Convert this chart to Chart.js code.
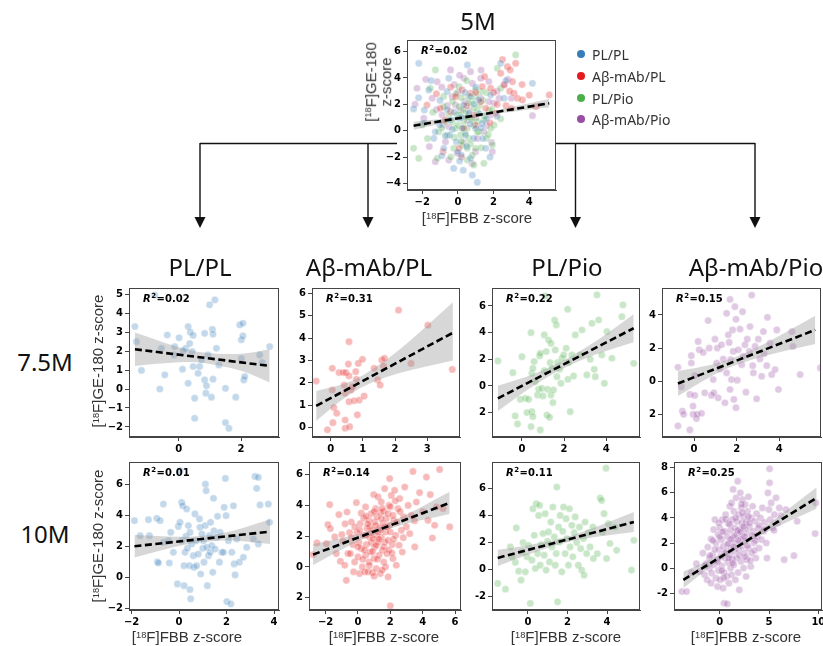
<!DOCTYPE html>
<html>
<head>
<meta charset="utf-8">
<script src="https://cdn.jsdelivr.net/npm/chart.js@4.4.1/dist/chart.umd.min.js"></script>
<style>
  body { margin: 0; background: #fff; }
  #fig { position: relative; width: 823px; height: 646px; overflow: hidden; font-family: "Liberation Sans", Arial, sans-serif; }
  #fig canvas { position: absolute; }
  .t { position: absolute; white-space: nowrap; transform: translate(-50%, -50%); }
  .big { font-family: "Noto Sans", sans-serif; font-size: 24px; color: #111; }
  .ax { font-size: 15px; color: #333; text-align: center; line-height: 15px; }
  .rot { transform: translate(-50%, -50%) rotate(-90deg); }
  .sup { font-size: 0.62em; vertical-align: 0.5em; }
  .leg { position: absolute; font-family: "Noto Sans", sans-serif; font-size: 14px; color: #333; white-space: nowrap; }
  .leg i { position: absolute; left: -15px; top: 5px; width: 8px; height: 8px; border-radius: 50%; }
</style>
</head>
<body>
<div id="fig">
  <svg width="823" height="646" style="position:absolute;left:0;top:0">
    <g stroke="#111" stroke-width="1.4" fill="none">
      <path d="M200 143.5 H397 M556 143.5 H755" />
      <path d="M200 143 V219 M368 143 V219 M575.5 143 V219 M755 143 V219" />
    </g>
    <g fill="#111">
      <path d="M194.5 217 H205.5 L200 228 Z" />
      <path d="M362.5 217 H373.5 L368 228 Z" />
      <path d="M570 217 H581 L575.5 228 Z" />
      <path d="M749.5 217 H760.5 L755 228 Z" />
    </g>
  </svg>
</div>
<script>
// groups and time points
const groups = ['PL/PL', 'Aβ-mAb/PL', 'PL/Pio', 'Aβ-mAb/Pio'];
const timepoints = ['5M', '7.5M', '10M'];

// R² per panel
const r2At5 = '0.02';
const r2At75 = ['0.02', '0.31', '0.22', '0.15'];
const r2At10 = ['0.01', '0.14', '0.11', '0.25'];

// 5M, all groups in one panel
const m5PLPL = [[-2.48,1.65],[-2.19,5.11],[-1.88,1.57],[-1.63,3.09],[-1.26,-0.08],[-1.01,0.43],[-0.79,-1.34],[-0.51,3.97],[-0.45,-0.33],[-0.23,-2.86],[-0.08,-0.84],[0.06,0.94],[0.19,-1.85],[0.34,1.95],[0.43,-0.33],[0.62,1.32],[0.71,-2.1],[0.81,-3.37],[0.9,-0.58],[1.09,-3.92],[1.18,2.33],[1.37,0.56],[1.56,-1.34],[1.84,2.71],[2.4,5.11],[2.59,2.46],[4.18,3.59],[0.53,4.99],[-0.6,2.96],[-1.35,-0.58],[-0.41,0.81],[0.99,0.18],[0.24,0.18],[0.7,0.5],[1.2,1.3],[-0.2,1.4],[0.4,2.9],[1.6,0.9],[-0.7,-0.4],[2.2,1.1],[0.1,-2.3],
    [-1.0,2.3],[-0.3,0.1],[0.2,1.0],[0.9,2.0],[1.4,-0.6],[-1.9,0.6],[-0.9,-1.9],[0.5,-1.2],[1.0,3.3],[-1.5,3.8],[1.8,-2.0],[0.3,-3.0],[2.7,3.8],[-0.6,1.6],[0.7,2.6],[1.3,0.2],[-2.2,2.5],[0.0,-1.6]];
const m5AbPL = [[-1.73,1.95],[-0.98,1.7],[-0.13,2.58],[0.24,3.09],[0.71,2.84],[0.9,1.19],[1.37,3.34],[1.56,1.7],[1.84,3.22],[2.12,1.32],[2.4,4.35],[2.59,3.47],[2.78,4.86],[2.93,4.61],[3.06,3.72],[3.15,2.84],[3.24,5.11],[3.34,2.46],[3.62,2.33],[4.37,1.82],[5.12,2.71],[-0.83,-1.59],[0.06,-1.34],[0.34,0.18],[-0.41,1.44],[1.28,2.2],[1.0,0.4],[2.0,2.9],[2.7,1.9],[-0.4,3.3],
    [1.5,4.1],[2.2,2.0],[2.9,3.0],[3.6,3.5],[1.0,2.9],[0.5,1.9],[-1.2,2.8],[1.8,0.6],[3.0,1.7],[2.5,5.4],[4.0,2.7],[-0.7,0.8],[0.2,-2.0]];
const m5PLPio = [[-2.48,-1.34],[-2.19,-2.1],[-2.01,0.43],[-1.54,3.22],[-1.26,4.61],[-1.16,-2.1],[-0.79,1.82],[-0.6,-0.33],[-0.32,0.68],[-0.13,0.18],[-0.04,1.19],[0.06,1.82],[0.15,-0.33],[0.24,-1.09],[0.34,0.68],[0.43,1.32],[0.53,0.18],[0.62,-0.58],[0.71,0.94],[0.81,2.2],[0.9,0.43],[0.99,-1.34],[1.09,1.44],[1.18,-0.08],[1.28,2.96],[1.46,0.81],[1.61,-0.58],[1.74,1.57],[1.93,-1.09],[2.03,0.43],[2.21,4.73],[2.4,3.22],[0.99,3.09],[0.06,3.34],[-0.69,0.68],[-0.23,-1.34],[0.53,-2.23],[1.46,-2.48],[3.24,5.75],[-1.07,-0.08],[1.84,0.18],[0.53,-1.34],[0.81,-1.85],[0.3,1.6],[0.6,2.6],[1.1,0.7],[-0.3,2.2],[0.9,1.7],[1.4,2.3],[0.2,-0.8],[1.7,-0.3],[-0.9,0.2],[0.5,3.8],
    [-0.5,1.2],[0.0,0.4],[0.4,-0.2],[0.8,0.9],[1.2,1.9],[1.5,1.1],[0.2,2.5],[-0.2,-0.5],[0.7,-1.0],[1.0,2.6],[0.5,1.0],[-0.8,2.6],[1.3,-1.3],[1.9,1.6],[0.1,1.2],[-1.4,1.4],[-0.4,-2.0],[0.9,-2.6],[1.6,2.9],[-1.7,-0.6],[2.4,0.9],[0.3,0.2],[1.1,-0.1],[-0.1,2.8],[0.6,2.1]];
const m5AbPio = [[-2.29,3.22],[-1.91,0.94],[-1.44,2.46],[-1.16,3.72],[-0.88,1.19],[-0.69,-0.84],[-0.41,4.61],[-0.32,2.58],[-0.04,-1.72],[0.15,1.57],[0.34,3.97],[0.53,0.81],[0.71,4.48],[0.99,-1.59],[1.28,3.97],[1.46,-0.08],[1.74,3.72],[1.84,1.19],[2.03,2.08],[2.31,2.46],[3.0,2.46],[4.18,1.14],[-1.26,-2.35],[-0.51,-2.23],[1.28,2.46],[1.74,2.2],[1.93,-1.59],[0.81,3.59],[-0.83,0.43],[-0.13,1.95],[0.6,1.5],[1.1,-0.6],[-0.6,1.9],[2.6,3.5],[0.0,2.9],
    [-1.8,3.9],[-0.9,3.3],[-0.2,3.5],[0.4,2.2],[1.0,1.0],[-1.2,1.6],[1.6,0.4],[2.2,3.0],[-0.5,0.3],[0.3,-0.9],[0.8,-2.5],[-1.6,-1.2],[1.3,4.6],[2.8,3.9],[0.1,4.2],[-2.4,2.0],[1.9,-0.9]];
const fit5X = [-2.48, 5.12];
const fit5Y = [0.38, 2.08];
const band5X = [-2.48, 0, 2.5, 5.12];
const band5Lo = [0.08, 0.82, 1.35, 1.76];
const band5Hi = [0.68, 1.06, 1.65, 2.40];

// 7.5M
const m75PLPL = [[-1.41,3.3],[-1.36,2.5],[-1.2,0.98],[-0.77,4.96],[-0.56,2.15],[-0.45,0.75],[-0.61,0.0],[-0.37,2.85],[-0.15,1.8],[-0.13,2.24],[0.01,2.7],[0.12,1.05],[0.22,2.15],[0.3,3.3],[0.3,0.3],[0.35,2.4],[0.37,3.0],[0.46,2.83],[0.43,1.98],[0.46,1.19],[0.51,-0.48],[0.51,-1.54],[0.62,0.83],[0.67,1.19],[0.73,1.54],[0.83,2.94],[0.83,0.48],[0.87,-0.22],[0.89,0.17],[0.94,1.8],[0.99,4.44],[1.05,-0.43],[1.08,3.15],[1.1,2.9],[1.1,0.52],[1.16,4.7],[1.21,2.15],[1.29,1.27],[1.5,0.04],[1.5,-1.77],[1.61,-2.07],[1.83,-0.43],[1.96,3.38],[2.01,1.6],[2.01,2.6],[2.06,3.47],[2.06,2.8],[2.09,0.48],[2.12,0.66],[2.6,1.8],[2.68,1.4],[2.92,2.24],[0.14,2.03]];
const m75AbPL = [[-0.45,2.08],[-0.1,-0.1],[0.05,2.65],[0.05,1.68],[0.07,0.22],[0.1,0.89],[0.19,0.64],[0.26,2.46],[0.39,2.46],[0.47,2.46],[0.45,1.53],[0.45,0.34],[0.45,-0.03],[0.42,1.9],[0.55,2.84],[0.57,2.31],[0.57,3.84],[0.57,1.16],[0.59,0.04],[0.63,1.68],[0.68,1.83],[0.73,1.2],[0.78,2.5],[0.8,2.16],[0.83,0.57],[0.86,2.87],[0.89,1.23],[0.99,3.05],[1.04,1.41],[1.35,2.65],[1.46,2.13],[1.54,1.9],[1.59,3.02],[1.64,2.75],[1.67,3.1],[2.11,5.25],[2.5,2.87],[3.02,4.58],[3.78,2.6]];
const m75PLPio = [[-1.14,1.88],[-0.43,1.0],[-0.32,-2.25],[-0.21,-2.85],[0,2.2],[-0.08,-1.0],[0.16,-0.93],[0.24,-2.0],[0.32,-1.0],[0.43,4.0],[0.47,0.95],[0.52,1.33],[0.47,-1.93],[0.52,-2.3],[0.43,-3.05],[0.58,1.83],[0.63,0.33],[0.74,-0.68],[0.79,-0.25],[0.84,2.25],[0.87,-3.3],[0.87,2.45],[0.95,-0.18],[1.0,-0.75],[1.06,1.15],[1.06,3.83],[1.11,6.75],[1.15,2.58],[1.19,-2.18],[1.22,-0.25],[1.26,3.45],[1.31,-2.35],[1.34,1.75],[1.38,3.2],[1.38,-0.68],[1.42,1.33],[1.47,-1.25],[1.5,-0.3],[1.55,4.95],[1.58,2.7],[1.63,4.58],[1.66,0.7],[1.69,1.75],[1.79,1.25],[1.85,0.2],[1.9,2.08],[1.98,2.33],[2.1,2.83],[2.17,5.75],[2.18,0.5],[2.21,1.75],[2.29,-1.93],[2.37,2.33],[2.45,0.75],[2.53,3.83],[2.77,2.33],[2.85,4.2],[3.08,0.83],[3.24,2.0],[3.32,4.7],[3.43,1.25],[3.48,0.7],[3.56,6.83],[3.64,4.95],[3.79,2.33],[3.91,0.2],[4.03,4.08],[4.27,2.08],[4.79,6.08],[4.74,5.2],[5.3,1.7]];
const m75AbPio = [[-0.76,0.84],[-0.76,-2.7],[-0.6,-0.34],[-0.55,-1.8],[-0.49,-2.0],[-0.2,-2.94],[-0.2,-0.8],[-0.13,1.54],[-0.13,1.1],[-0.05,-2.0],[-0.05,-1.5],[0.03,-0.86],[0.03,0.34],[0.11,-2.26],[0.14,-2.0],[0.19,2.4],[0.24,1.9],[0.35,-1.94],[0.43,1.74],[0.5,-0.7],[0.66,3.66],[0.71,2.0],[0.82,-0.86],[0.9,0.1],[0.93,-0.7],[0.98,2.54],[1.06,1.1],[1.09,2.0],[1.13,-1.0],[1.21,0.74],[1.29,2.2],[1.37,1.34],[1.45,-1.3],[1.53,0.5],[1.53,4.1],[1.61,2.8],[1.65,2.34],[1.69,4.94],[1.69,-0.5],[1.72,1.3],[1.76,0.1],[1.81,3.1],[1.84,1.8],[1.87,-1.1],[1.92,4.5],[1.97,3.74],[1.97,-1.6],[2.03,0.06],[2.08,1.9],[2.16,3.14],[2.24,1.0],[2.28,4.2],[2.31,1.5],[2.39,2.2],[2.44,-0.66],[2.5,2.54],[2.6,1.8],[2.63,3.3],[2.71,5.2],[2.76,0.94],[2.79,0.5],[2.87,2.1],[2.94,-1.06],[3.02,2.54],[3.1,1.34],[3.18,0.3],[3.26,3.0],[3.29,1.66],[3.42,0.94],[3.45,3.86],[3.57,2.3],[3.65,0.4],[3.81,0.7],[3.89,3.1],[3.97,-0.5],[4.6,3.0],[4.65,2.1],[4.99,0.4],[5.94,0.8]];
const fit75X = [[-1.41, 2.92], [-0.45, 3.8], [-1.14, 5.3], [-0.76, 5.7]];
const fit75Y = [[2.1, 1.22], [0.97, 4.24], [-0.93, 4.33], [-0.14, 3.1]];
const band75X = [[-1.41, 0, 0.8, 2, 2.92], [-0.45, 0.5, 1.2, 2.2, 3.8], [-1.14, 0.5, 2, 3.5, 5.3], [-0.76, 0.8, 2, 3.5, 5.7]];
const band75Lo = [[1.22, 1.41, 1.37, 0.96, 0.34], [0.30, 1.40, 1.96, 2.46, 3.0], [-1.88, -0.04, 1.34, 2.36, 3.28], [-0.89, 0.29, 0.99, 1.59, 2.25]];
const band75Hi = [[2.98, 2.21, 1.93, 1.86, 2.10], [1.64, 2.00, 2.52, 3.56, 5.6], [0.02, 0.86, 1.94, 3.36, 5.38], [0.61, 0.99, 1.49, 2.39, 3.95]];

// 10M
const m10PLPL = [[-1.88,3.65],[-1.64,2.68],[-1.29,3.71],[-1.25,2.68],[-0.94,3.8],[-0.91,1.0],[-0.87,0.92],[-0.8,3.65],[-0.66,2.25],[-0.66,4.72],[-0.45,2.36],[-0.41,0.92],[-0.35,2.9],[-0.24,1.61],[-0.07,-0.43],[-0.03,3.28],[0.04,3.54],[0.11,4.83],[0.11,2.36],[0.15,4.61],[0.21,0.75],[0.21,-0.54],[0.25,1.61],[0.29,2.64],[0.32,4.4],[0.35,1.87],[0.39,3.33],[0.44,0.75],[0.46,-0.79],[0.46,2.9],[0.49,-1.39],[0.53,2.15],[0.6,1.39],[0.63,0.64],[0.67,4.08],[0.72,2.36],[0.74,0.75],[0.81,1.5],[0.86,3.76],[0.88,3.22],[0.91,0.21],[0.96,2.79],[1.0,1.87],[1.03,2.36],[1.05,0.97],[1.1,3.33],[1.11,6.0],[1.14,5.58],[1.17,1.93],[1.19,-0.54],[1.24,1.39],[1.28,2.68],[1.31,1.61],[1.33,3.54],[1.38,2.04],[1.42,0.32],[1.45,5.09],[1.47,3.0],[1.52,1.82],[1.59,2.58],[1.62,3.93],[1.7,0.97],[1.73,2.9],[1.8,1.61],[1.87,1.61],[1.9,4.51],[1.95,6.37],[1.98,3.97],[2.01,-1.57],[2.08,2.36],[2.18,-1.72],[2.22,1.61],[2.29,4.61],[2.32,0.86],[2.36,0.15],[2.43,2.47],[2.54,0.97],[2.71,1.29],[2.85,1.93],[3.13,2.47],[3.2,6.5],[3.27,5.73],[3.34,6.44],[3.41,4.66],[3.34,2.15],[3.76,4.72],[3.81,3.54],[0.04,6.87]];
const m10AbPL = [[-2.78,0.8],[-2.54,1.56],[-1.86,2.75],[-1.75,4.05],[-1.71,2.49],[-1.96,1.52],[-1.44,1.95],[-1.34,0.87],[-1.18,3.4],[-1.09,0.37],[-0.93,1.67],[-0.82,0.11],[-0.72,-0.87],[-0.68,3.57],[-0.62,0.87],[-0.52,2.23],[-0.47,0.87],[-0.41,2.92],[-0.31,1.45],[-0.27,-0.32],[-0.21,0.32],[-0.1,4.18],[-0.06,2.23],[0,0.65],[0.06,1.58],[0.1,-0.43],[0.14,2.81],[0.21,1.19],[0.27,0],[0.31,2.06],[0.35,3.18],[0.41,-0.32],[0.47,3.9],[0.47,0.76],[0.52,1.45],[0.56,2.49],[0.62,-0.32],[0.68,3.03],[0.68,0.32],[0.72,1.95],[0.76,0.97],[0.82,1.58],[0.82,3.46],[0.89,-0.37],[0.93,2.38],[0.97,4.7],[0.99,0.54],[1.03,2.92],[1.03,1.3],[1.09,3.79],[1.13,2.06],[1.13,-0.11],[1.18,3.25],[1.24,1.62],[1.24,4.55],[1.3,0.76],[1.34,2.53],[1.38,3.53],[1.38,-0.43],[1.44,1.95],[1.44,4.22],[1.51,1.08],[1.55,2.81],[1.59,0.32],[1.59,3.61],[1.65,5.09],[1.65,1.62],[1.71,2.27],[1.75,3.14],[1.79,0.87],[1.86,1.73],[1.86,-0.65],[1.92,4.0],[1.96,5.74],[2.0,2.27],[2.0,-2.53],[2.06,4.65],[2.12,1.45],[2.16,0.54],[2.21,3.03],[2.27,4.98],[2.33,2.06],[2.37,0.11],[2.47,3.79],[2.54,1.41],[2.58,4.44],[2.68,2.38],[2.74,0.97],[2.82,3.25],[2.89,5.19],[2.99,2.6],[3.2,2.16],[3.3,3.35],[3.4,6.21],[3.51,1.3],[3.61,4.22],[3.81,4.83],[4.23,5.84],[4.33,3.03],[4.47,4.7],[4.6,1.88],[4.74,2.71],[4.85,3.9],[5.05,6.34],[5.26,3.79],[5.67,2.6],[0.72,2.6],[1.24,2.27],[1.44,3.14],[1.65,2.6],[1.86,3.46],[0.93,1.84],[1.13,1.41],[1.96,2.71],[0.52,2.06],[2.16,3.35],
    [0.2,3.5],[0.4,1.1],[0.6,2.8],[0.8,2.2],[1.0,3.6],[1.2,0.5],[1.4,2.4],[1.6,1.3],[1.8,2.6],[2.0,3.9],[2.2,1.8],[2.4,2.9],[0.1,2.4],[0.3,0.5],[0.9,1.0],[1.1,2.7],[1.5,3.8],[1.7,0.0],[1.9,1.1],[2.3,4.3],[-0.4,1.9],[-0.2,2.6],[0.5,3.3],[0.7,0.1],[1.3,1.8],[2.6,3.6],[2.8,1.9],[3.1,4.0],[-1.0,2.1],[-0.8,2.8],[0.0,1.3],[1.5,-0.2],[2.1,0.9],[3.5,3.0],[4.0,3.6],[1.0,-0.6]];
const m10PLPio = [[-1.53,-1.06],[-1.14,-1.49],[-0.89,1.66],[-0.81,0.92],[-0.64,0.5],[-0.59,3.07],[-0.47,-0.15],[-0.35,-0.82],[-0.3,1.29],[-0.25,1.98],[-0.13,-0.2],[-0.05,0.92],[0.03,1.78],[0.12,-2.55],[0.2,0.67],[0.25,4.5],[0.32,2.52],[0.37,0.05],[0.42,4.88],[0.49,1.16],[0.54,4.0],[0.59,4.75],[0.62,0.3],[0.67,1.83],[0.76,2.65],[0.82,1.04],[0.87,4.13],[0.92,-0.07],[0.99,2.08],[1.04,2.77],[1.09,0.54],[1.16,3.51],[1.21,1.66],[1.26,4.63],[1.33,2.4],[1.38,0.3],[1.43,1.16],[1.46,6.11],[1.5,-2.43],[1.55,3.14],[1.6,2.03],[1.63,4.0],[1.71,-0.2],[1.76,2.82],[1.8,4.63],[1.88,1.16],[1.93,3.76],[1.97,2.28],[2.05,0.3],[2.1,4.5],[2.13,1.66],[2.22,3.27],[2.27,0.92],[2.34,2.72],[2.39,3.89],[2.47,1.98],[2.55,0.3],[2.61,3.14],[2.67,1.53],[2.72,-0.07],[2.81,2.28],[2.84,-0.45],[2.89,3.51],[2.97,1.16],[3.06,2.72],[3.14,1.66],[3.28,3.14],[3.31,0.79],[3.51,1.16],[3.65,5.3],[3.73,5.12],[3.78,2.77],[3.85,4.13],[3.95,7.52],[3.98,0.79],[4.07,3.39],[4.15,1.91],[4.4,3.14],[4.49,1.41],[5.24,-0.07],[5.36,2.15]];
const m10AbPio = [[-3.86,-1.87],[-3.37,-1.87],[-2.87,-0.35],[-2.38,0.35],[-2.05,-0.27],[-1.72,1.2],[-1.55,-0.53],[-1.39,0.35],[-1.29,-0.93],[-1.22,1.68],[-1.06,0],[-1.06,0.8],[-0.89,2.32],[-0.89,-1.2],[-0.83,-0.4],[-0.73,1.07],[-0.63,3.07],[-0.56,0.27],[-0.5,3.87],[-0.4,2.0],[-0.4,-0.8],[-0.3,0.67],[-0.23,-1.47],[-0.17,2.67],[-0.13,-0.19],[-0.07,1.47],[0,3.2],[0.03,-0.93],[0.1,0.93],[0.17,2.27],[0.2,0.19],[0.26,3.87],[0.33,-1.6],[0.36,1.73],[0.43,-0.35],[0.43,-2.8],[0.5,2.93],[0.53,0.8],[0.59,4.27],[0.66,1.33],[0.69,-0.67],[0.76,2.53],[0.76,-2.85],[0.83,0.45],[0.86,3.55],[0.92,2.0],[0.92,-1.2],[0.99,1.07],[1.02,4.93],[1.09,0],[1.09,3.01],[1.16,1.6],[1.19,-0.53],[1.25,3.87],[1.25,0.72],[1.32,2.4],[1.35,6.27],[1.42,0.27],[1.42,4.53],[1.49,1.33],[1.52,3.2],[1.58,2.0],[1.58,-0.93],[1.65,5.6],[1.68,0.8],[1.75,3.73],[1.75,2.67],[1.82,6.93],[1.85,-0.35],[1.91,4.27],[1.91,1.47],[1.98,-1.73],[2.01,3.07],[2.08,6.0],[2.08,2.27],[2.15,0.53],[2.18,4.8],[2.24,3.6],[2.24,1.73],[2.31,5.47],[2.34,2.53],[2.41,0],[2.41,4.08],[2.48,1.2],[2.51,3.2],[2.57,5.07],[2.57,2.13],[2.67,-0.67],[2.67,3.65],[2.74,2.8],[2.74,0.67],[2.81,4.53],[2.9,1.6],[2.9,5.68],[3.0,3.28],[3.07,2.32],[3.14,0.13],[3.17,4.0],[3.23,1.2],[3.33,4.93],[3.4,2.93],[3.47,2.0],[3.56,3.73],[3.66,0.8],[3.73,4.35],[3.8,2.53],[3.89,3.2],[3.99,1.6],[4.13,4.0],[4.22,2.27],[4.32,4.8],[4.46,2.93],[4.55,3.65],[4.72,2.0],[4.79,0.8],[4.88,6.0],[4.98,4.67],[5.05,6.8],[5.05,7.92],[5.12,3.87],[5.21,5.2],[5.38,3.2],[5.54,4.27],[5.71,5.6],[5.87,3.6],[6.04,4.8],[6.2,4.19],[6.53,0.67],[6.7,4.67],[7.52,0.99],[7.85,3.73],[9.67,2.75],[9.74,5.2],
    [-0.5,1.5],[0.0,2.5],[0.5,1.2],[1.0,3.5],[1.5,2.6],[2.0,1.0],[2.5,2.5],[3.0,3.6],[-0.2,0.5],[0.3,2.9],[0.8,1.9],[1.3,0.4],[1.8,3.0],[2.3,4.4],[2.8,1.8],[3.3,2.6],[-1.0,1.0],[-0.7,2.2],[0.6,3.9],[1.1,2.3],[1.6,4.0],[2.1,2.9],[2.6,0.9],[3.6,2.2],[4.0,3.4],[0.2,-0.2],[0.9,0.8],[1.4,1.7],[1.9,2.2],[2.4,3.3],[2.9,4.1],[3.5,1.4],[-1.5,0.2],[-0.1,3.6],[0.4,-0.8],[1.2,5.2],[2.2,5.1],[3.1,0.6],[4.5,3.1],[5.5,3.0]];
const fit10X = [[-1.88, 3.83], [-2.78, 5.67], [-1.53, 5.36], [-3.7, 9.83]];
const fit10Y = [[2.0, 2.94], [0.8, 4.16], [0.84, 3.51], [-0.93, 5.6]];
const band10X = [[-1.88, 0, 1, 2.2, 3.83], [-2.78, -0.5, 1, 3, 5.67], [-1.53, 0, 1.5, 3, 5.36], [-3.7, -1, 2, 5, 9.83]];
const band10Lo = [[1.27, 2.01, 2.27, 2.37, 2.14], [0.13, 1.41, 2.13, 2.80, 3.44], [0.24, 1.08, 1.82, 2.30, 2.76], [-1.58, 0.07, 1.67, 2.97, 4.75]];
const band10Hi = [[2.73, 2.61, 2.67, 2.97, 3.74], [1.47, 2.01, 2.47, 3.40, 4.88], [1.44, 1.78, 2.22, 2.90, 4.26], [-0.28, 0.67, 1.97, 3.57, 6.45]];

// tick values and their printed labels
const ticks5 = { x: [-2, 0, 2, 4], xl: ['−2', '0', '2', '4'], y: [-4, -2, 0, 2, 4, 6], yl: ['−4', '−2', '0', '2', '4', '6'] };
const ticks75 = [
    { x: [0, 2], xl: ['0', '2'], y: [-2, -1, 0, 1, 2, 3, 4, 5], yl: ['−2', '−1', '0', '1', '2', '3', '4', '5'] },
    { x: [0, 1, 2, 3], xl: ['0', '1', '2', '3'], y: [0, 1, 2, 3, 4, 5, 6], yl: ['0', '1', '2', '3', '4', '5', '6'] },
    { x: [0, 2, 4], xl: ['0', '2', '4'], y: [-2, 0, 2, 4, 6], yl: ['2', '0', '2', '4', '6'] },
    { x: [0, 2, 4], xl: ['0', '2', '4'], y: [-2, 0, 2, 4], yl: ['2', '0', '2', '4'] }
];
const ticks10 = [
    { x: [-2, 0, 2, 4], xl: ['−2', '0', '2', '4'], y: [-2, 0, 2, 4, 6], yl: ['−2', '0', '2', '4', '6'] },
    { x: [-2, 0, 2, 4, 6], xl: ['−2', '0', '2', '4', '6'], y: [-2, 0, 2, 4, 6], yl: ['2', '0', '2', '4', '6'] },
    { x: [0, 2, 4], xl: ['0', '2', '4'], y: [-2, 0, 2, 4, 6], yl: ['-2', '0', '2', '4', '6'] },
    { x: [0, 5, 10], xl: ['0', '5', '10'], y: [-2, 0, 2, 4, 6, 8], yl: ['-2', '0', '2', '4', '6', '8'] }
];

// layout: plot boxes [left, top, right, bottom] and axis ranges
const groupColors = ['#377eb8', '#e41a1c', '#4daf4a', '#984ea3'];
const box5 = { box: [407, 40, 556, 190], x: [-2.85, 5.5], y: [-4.5, 6.88] };
const boxes75 = [
    { box: [129, 288, 279, 437], x: [-1.6, 3.22], y: [-2.53, 5.33] },
    { box: [312, 288, 460, 437], x: [-0.58, 4.02], y: [-0.42, 6.24] },
    { box: [492, 288, 640, 437], x: [-1.42, 5.6], y: [-3.83, 7.35] },
    { box: [662, 288, 821, 437], x: [-1.51, 5.97], y: [-3.37, 5.63] }
];
const boxes10 = [
    { box: [129, 462, 279, 610], x: [-2.11, 4.21], y: [-2.11, 7.43] },
    { box: [309, 462, 461, 610], x: [-3.03, 6.37], y: [-2.8, 6.82] },
    { box: [492, 462, 640, 610], x: [-1.82, 5.67], y: [-3.04, 7.98] },
    { box: [674, 462, 822, 610], x: [-4.65, 10.37], y: [-3.34, 8.46] }
];

const fig = document.getElementById('fig');

function toXY(xs, ys) {
    return xs.map((x, i) => ({ x: x, y: ys[i] }));
}

function fade(hex, a) {
    const n = parseInt(hex.slice(1), 16);
    return 'rgba(' + (n >> 16) + ',' + ((n >> 8) & 255) + ',' + (n & 255) + ',' + a + ')';
}

function addText(html, left, top, cls) {
    const d = document.createElement('div');
    d.className = cls;
    d.style.left = left + 'px';
    d.style.top = top + 'px';
    d.innerHTML = html;
    fig.appendChild(d);
    return d;
}

// frame around the plot area + R² label
function panelPlugin(r2) {
    return {
        id: 'panelDeco',
        afterDatasetsDraw: function(chart) {
            const ctx = chart.ctx;
            const a = chart.chartArea;
            ctx.save();
            ctx.strokeStyle = '#444';
            ctx.lineWidth = 1;
            ctx.strokeRect(Math.round(a.left) + 0.5, Math.round(a.top) + 0.5, Math.round(a.width) - 1, Math.round(a.height) - 1);
            ctx.fillStyle = '#000';
            ctx.textBaseline = 'alphabetic';
            let x = a.left + 14;
            const y = a.top + 14;
            ctx.font = 'italic bold 10px "DejaVu Sans"';
            ctx.fillText('R', x, y);
            x += ctx.measureText('R').width + 0.5;
            ctx.font = 'bold 7px "DejaVu Sans"';
            ctx.fillText('2', x, y - 4);
            x += ctx.measureText('2').width + 0.5;
            ctx.font = 'bold 10px "DejaVu Sans"';
            ctx.fillText('=' + r2, x, y);
            ctx.restore();
        }
    };
}

function makePanel(layout, groupSets, fitX, fitY, bandX, bandLo, bandHi, tk, r2) {
    const [l, t, r, b] = layout.box;
    const padL = 30, padT = 10, padR = 10, padB = 22;
    const w = r - l + padL + padR;
    const h = b - t + padT + padB;
    const cv = document.createElement('canvas');
    cv.width = w;
    cv.height = h;
    cv.style.left = (l - padL) + 'px';
    cv.style.top = (t - padT) + 'px';
    cv.style.width = w + 'px';
    cv.style.height = h + 'px';
    fig.appendChild(cv);

    const datasets = [
        { type: 'line', data: toXY(fitX, fitY), borderColor: '#000', borderWidth: 2.6, borderDash: [7, 3.5], pointRadius: 0, fill: false, order: 0 },
        { type: 'line', data: toXY(bandX, bandHi), borderColor: 'rgba(0,0,0,0)', borderWidth: 1, pointRadius: 0, tension: 0.35, fill: false, order: 1 },
        { type: 'line', data: toXY(bandX, bandLo), borderColor: 'rgba(0,0,0,0)', borderWidth: 1, pointRadius: 0, tension: 0.35, fill: '-1', backgroundColor: 'rgba(150,150,150,0.38)', order: 1 }
    ];
    groupSets.forEach(function(g) {
        datasets.push({
            type: 'scatter',
            data: g.pts.map(p => ({ x: p[0], y: p[1] })),
            backgroundColor: fade(g.color, 0.3),
            borderColor: 'rgba(255,255,255,0.55)',
            borderWidth: 0.6,
            pointRadius: 3.6,
            order: 2
        });
    });

    const tickFont = { family: '"DejaVu Sans"', size: 10, weight: 'bold' };
    function axis(vals, labels, range, isY) {
        return {
            type: 'linear',
            min: range[0],
            max: range[1],
            afterBuildTicks: function(s) { s.ticks = vals.map(v => ({ value: v })); },
            afterFit: function(s) { if (isY) s.width = padL; else s.height = padB; },
            ticks: {
                autoSkip: false,
                maxRotation: 0,
                padding: 2,
                color: '#000',
                font: tickFont,
                callback: function(v) { const i = vals.indexOf(v); return i < 0 ? '' : labels[i]; }
            },
            grid: { drawOnChartArea: false, drawTicks: true, tickLength: 4, color: '#444' },
            border: { display: true, color: '#444' }
        };
    }

    return new Chart(cv, {
        type: 'scatter',
        data: { datasets: datasets },
        options: {
            responsive: false,
            animation: false,
            events: [],
            layout: { padding: { top: padT, right: padR, left: 0, bottom: 0 } },
            plugins: { legend: { display: false }, tooltip: { enabled: false } },
            scales: {
                x: axis(tk.x, tk.xl, layout.x, false),
                y: axis(tk.y, tk.yl, layout.y, true)
            }
        },
        plugins: [panelPlugin(r2)]
    });
}

const yTitle = '[<span class="sup">18</span>F]GE-180 z-score';
const xTitle = '[<span class="sup">18</span>F]FBB z-score';

// top panel: 5M, all groups together
makePanel(box5,
    [m5PLPL, m5AbPL, m5PLPio, m5AbPio].map((pts, i) => ({ pts: pts, color: groupColors[i] })),
    fit5X, fit5Y, band5X, band5Lo, band5Hi, ticks5, r2At5);
addText(timepoints[0], 478, 20, 't big');
addText('[<span class="sup">18</span>F]GE-180<br>z-score', 377, 82, 't ax rot');
addText(xTitle, 477, 217, 't ax');

// legend for the top panel
const legendY = [54, 76, 98, 119];
groups.forEach(function(name, i) {
    addText('<i style="background:' + groupColors[i] + '"></i>' + name, 592, legendY[i] - 9, 'leg');
});

// per-group panels
const m75Sets = [m75PLPL, m75AbPL, m75PLPio, m75AbPio];
const m10Sets = [m10PLPL, m10AbPL, m10PLPio, m10AbPio];
const colTitleX = [200, 369, 567, 756];
const xTitleX = [187, 384, 566, 746];

groups.forEach(function(name, i) {
    makePanel(boxes75[i], [{ pts: m75Sets[i], color: groupColors[i] }],
        fit75X[i], fit75Y[i], band75X[i], band75Lo[i], band75Hi[i], ticks75[i], r2At75[i]);
    makePanel(boxes10[i], [{ pts: m10Sets[i], color: groupColors[i] }],
        fit10X[i], fit10Y[i], band10X[i], band10Lo[i], band10Hi[i], ticks10[i], r2At10[i]);
    addText(name, colTitleX[i], 266, 't big');
    addText(xTitle, xTitleX[i], 636, 't ax');
});

addText(timepoints[1], 45, 361, 't big');
addText(timepoints[2], 45, 533, 't big');
addText(yTitle, 97, 361, 't ax rot');
addText(yTitle, 97, 536, 't ax rot');
</script>
</body>
</html>
